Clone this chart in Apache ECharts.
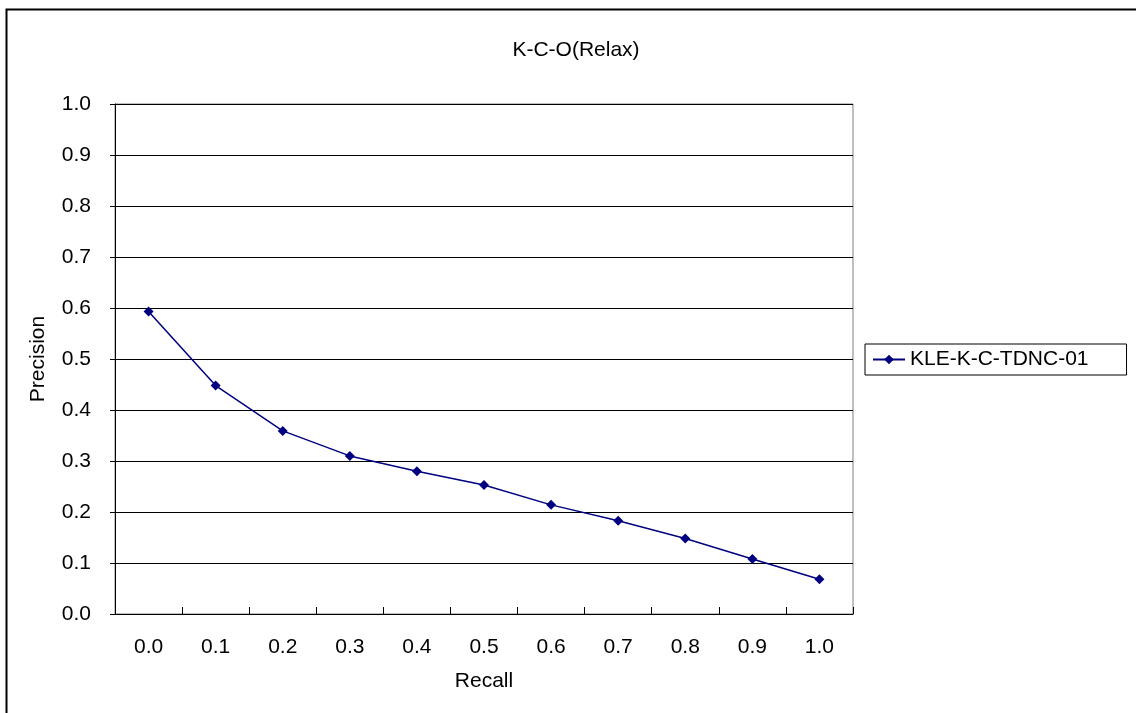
<!DOCTYPE html>
<html>
<head>
<meta charset="utf-8">
<style>
  html, body { margin: 0; padding: 0; background: #fff; }
  #chart { width: 1136px; height: 713px; }
</style>
<script src="https://cdn.jsdelivr.net/npm/echarts@6/dist/echarts.min.js"></script>
</head>
<body>
<div id="chart"></div>
<script>
// Recall levels (x categories) and interpolated precision at each level
const recallLevels = ['0.0', '0.1', '0.2', '0.3', '0.4', '0.5', '0.6', '0.7', '0.8', '0.9', '1.0'];
const precisionValues = [0.593, 0.448, 0.359, 0.310, 0.280, 0.253, 0.214, 0.183, 0.148, 0.108, 0.068];
const seriesName = 'KLE-K-C-TDNC-01';
const chartTitle = 'K-C-O(Relax)';

const FONT = '"Liberation Sans", Arial, sans-serif';
const chart = echarts.init(document.getElementById('chart'), null, { renderer: 'canvas' });

chart.setOption({
  backgroundColor: '#fff',
  animation: false,
  textStyle: { fontFamily: FONT, color: '#000' },
  graphic: [{
    type: 'rect',
    left: 4, top: 7,
    shape: { width: 1300, height: 900 },
    style: { fill: 'none', stroke: '#000', lineWidth: 2 },
    silent: true, z: -10
  }],
  title: {
    text: chartTitle,
    left: 571, top: 35,
    textAlign: 'center',
    textStyle: { fontFamily: FONT, fontSize: 21, fontWeight: 'normal', color: '#000' }
  },
  legend: {
    left: 865, top: 344,
    orient: 'vertical',
    padding: [5, 38, 5, 7],
    borderColor: '#000', borderWidth: 1,
    itemWidth: 32, itemHeight: 12, itemGap: 6,
    textStyle: { fontFamily: FONT, fontSize: 21, color: '#000' },
    data: [seriesName]
  },
  grid: {
    left: 115, top: 104, right: 283, bottom: 99,
    show: true, borderColor: '#808080', borderWidth: 1,
    containLabel: false
  },
  xAxis: {
    type: 'category',
    data: recallLevels,
    boundaryGap: true,
    name: 'Recall',
    nameLocation: 'middle',
    nameGap: 57,
    nameTextStyle: { fontFamily: FONT, fontSize: 21, color: '#000' },
    axisLine: { show: true, lineStyle: { color: '#000', width: 1 } },
    axisTick: { show: true, inside: true, length: 7, lineStyle: { color: '#000' } },
    axisLabel: { fontFamily: FONT, fontSize: 21, color: '#000', margin: 23 },
    splitLine: { show: false }
  },
  yAxis: {
    type: 'value',
    min: 0, max: 1, interval: 0.1,
    name: 'Precision',
    nameLocation: 'middle',
    nameGap: 66,
    nameRotate: 90,
    nameTextStyle: { fontFamily: FONT, fontSize: 21, color: '#000' },
    axisLine: { show: true, lineStyle: { color: '#000', width: 1 } },
    axisTick: { show: true, inside: false, length: 5, lineStyle: { color: '#000' } },
    axisLabel: {
      fontFamily: FONT, fontSize: 21, color: '#000', margin: 24,
      formatter: v => v.toFixed(1)
    },
    splitLine: { show: true, lineStyle: { color: '#000', width: 1 } }
  },
  series: [{
    name: seriesName,
    type: 'line',
    data: precisionValues,
    symbol: 'diamond',
    symbolSize: 10,
    showSymbol: true,
    lineStyle: { color: '#000080', width: 1.5 },
    itemStyle: { color: '#000080' }
  }]
});
</script>
</body>
</html>
